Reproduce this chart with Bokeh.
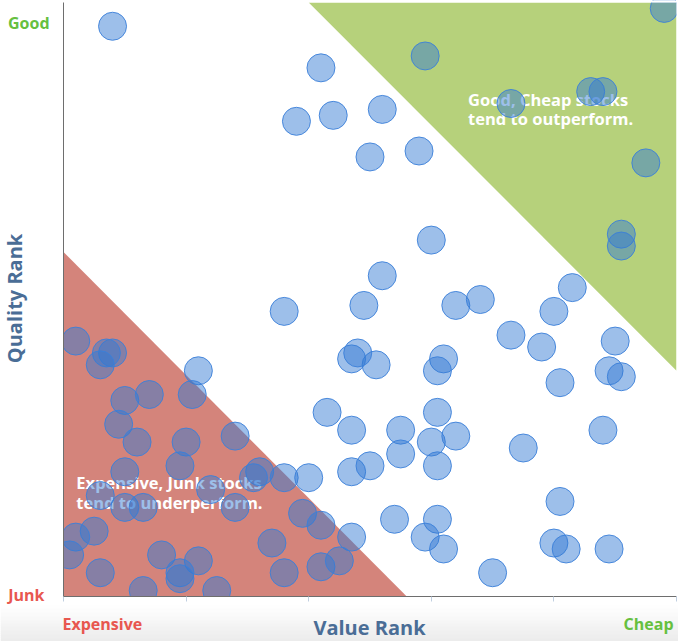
import math
from bokeh.plotting import figure
from bokeh.models import Label, FixedTicker, Range1d, LinearAxis, BoxAnnotation
from bokeh.core.properties import value
from bokeh.embed import file_html
from bokeh.resources import INLINE

# Stock positions: value rank (x) and quality rank (y)
value_rank = [8, 42, 38, 44, 52, 50, 98, 59, 73, 86, 88, 95, 91, 91, 58, 60, 52, 83,
              64, 68, 80, 73, 78, 90, 62, 61, 51, 81, 89, 91, 61, 55, 55, 60, 64, 61,
              75, 88, 81, 54, 61, 59, 62, 70, 80, 82, 89, 36, 49, 2, 8, 7, 6, 22, 47,
              48, 10, 14, 21, 9, 12, 20, 28, 43, 47, 19, 10, 6, 10, 13, 24, 32, 31,
              36, 40, 47, 50, 28, 39, 42, 47, 5, 2, 1, 6, 16, 22, 19, 19, 13, 25, 34,
              36, 42, 45]
quality_rank = [96, 89, 80, 81, 82, 74, 99, 91, 83, 85, 85, 73, 61, 59, 75, 60, 54, 52,
                49, 50, 48, 44, 42, 43, 40, 38, 39, 36, 38, 37, 31, 28, 24, 26, 27, 22,
                25, 28, 16, 13, 13, 10, 8, 4, 9, 8, 8, 48, 49, 43, 41, 41, 39, 38, 40,
                41, 33, 34, 34, 29, 26, 26, 27, 31, 28, 22, 21, 17, 15, 15, 18, 21, 20,
                20, 20, 21, 22, 15, 14, 12, 10, 11, 10, 7, 4, 7, 6, 4, 3, 1, 1, 9,
                4, 5, 6]

# Shaded zones
junk_zone_x = [0, 0, 56]
junk_zone_y = [0, 58, 0]
good_zone_x = [40, 100, 100]
good_zone_y = [100, 100, 38]

x_ticks = [0, 20, 40, 60, 80, 100]

FONT = "Open Sans"
W, H = 678, 641
# pixel box of the plotting area (data 0..100) inside the canvas
PX_L, PX_R, PX_T, PX_B = 63, 676, 2, 596
sx = (PX_R - PX_L) / 100.0
sy = (PX_B - PX_T) / 100.0
x_range = Range1d(-PX_L / sx, 100 + (W - PX_R) / sx)
y_range = Range1d(-(H - PX_B) / sy, 100 + PX_T / sy)

p = figure(width=W, height=H, x_range=x_range, y_range=y_range,
           output_backend="svg", toolbar_location=None,
           x_axis_location=None, y_axis_location=None,
           min_border_left=0, min_border_right=0, min_border_top=0, min_border_bottom=0)
p.grid.visible = False
p.outline_line_color = None
p.background_fill_color = "white"
p.border_fill_color = "white"

p.patch(junk_zone_x, junk_zone_y, fill_color="#d4847b", line_color=None)
p.patch(good_zone_x, good_zone_y, fill_color="#b6d17b", line_color=None)

p.text(x=[66, 66], y=[83.7, 80.5], text=["Good, Cheap stocks", "tend to outperform."],
       text_font=value(FONT), text_font_style="bold", text_font_size="16.5px",
       text_color="white", text_baseline="middle", text_align="left")
p.text(x=[2.1, 2.1], y=[19.2, 15.8], text=["Expensive, Junk stocks", "tend to underperform."],
       text_font=value(FONT), text_font_style="bold", text_font_size="16.5px",
       text_color="white", text_baseline="middle", text_align="left")

p.scatter(value_rank, quality_rank, size=28, fill_color="#337ad3", fill_alpha=0.48,
          line_color="#3b7fd9", line_alpha=0.9, line_width=1)

# clip the markers at the edges of the 0..100 plotting area
for kw in (dict(right=0), dict(top=0), dict(bottom=100), dict(left=100)):
    p.add_layout(BoxAnnotation(fill_color="white", fill_alpha=1, line_color=None,
                               level="glyph", **kw))

# soft grey fade at the bottom of the page background
N_BANDS = 18
for i in range(N_BANDS):
    top_px = 605 + 2 * i
    t = (i + 1) / N_BANDS
    g = int(round(255 - t * (255 - 236)))
    p.add_layout(BoxAnnotation(top=(PX_B - top_px) / sy, bottom=(PX_B - top_px - 2.5) / sy,
                               fill_color="#%02x%02x%02x" % (g, g, g), fill_alpha=1,
                               line_color=None, level="glyph"))

xa = LinearAxis(fixed_location=0, bounds=(0, 100), ticker=FixedTicker(ticks=x_ticks))
xa.major_tick_out = 5
xa.major_tick_in = 0
xa.minor_tick_out = 0
xa.minor_tick_in = 0
xa.major_tick_line_color = "#c0cfe0"
xa.axis_line_color = "#6e6e6e"
xa.major_label_text_font_size = "0px"
xa.major_label_text_color = None
p.add_layout(xa, "below")

ya = LinearAxis(fixed_location=0, bounds=(0, 100), ticker=FixedTicker(ticks=[]))
ya.major_tick_out = 0
ya.major_tick_in = 0
ya.minor_tick_out = 0
ya.minor_tick_in = 0
ya.axis_line_color = "#6e6e6e"
ya.major_label_text_font_size = "0px"
ya.major_label_text_color = None
p.add_layout(ya, "left")

GREEN = "#66c03f"
RED = "#e8574f"
AXIS_BLUE = "#4a6d96"
# positions in screen px from the canvas' bottom-left corner
for txt, x, y, align, col, size, ang in [
    ("Good", 49, H - 22, "right", GREEN, "16px", 0),
    ("Junk", 44, H - 594, "right", RED, "16px", 0),
    ("Expensive", 62, H - 623, "left", RED, "16px", 0),
    ("Cheap", 673, H - 623, "right", GREEN, "16px", 0),
    ("Value Rank", 369, H - 627, "center", AXIS_BLUE, "20px", 0),
    ("Quality Rank", 14, H - 298, "center", AXIS_BLUE, "20px", math.pi / 2),
]:
    p.add_layout(Label(x=x, y=y, x_units="screen", y_units="screen", text=txt,
                       text_align=align, text_baseline="middle", text_font=FONT,
                       text_font_style="bold", text_font_size=size, text_color=col,
                       angle=ang, level="overlay"))

open("out.html", "w").write(file_html(p, INLINE))
